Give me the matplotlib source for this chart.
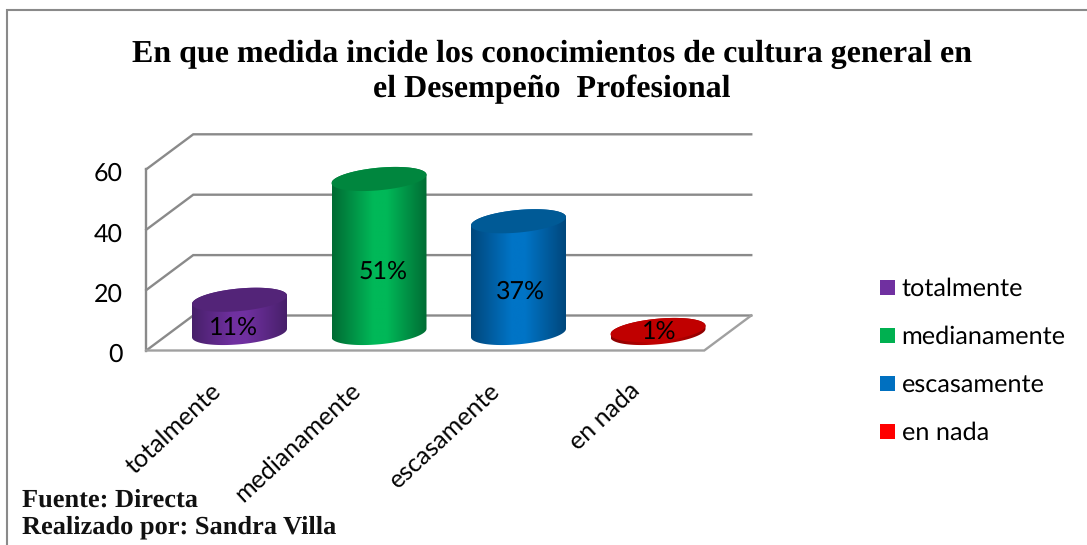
import numpy as np
import matplotlib
matplotlib.use("Agg")
import matplotlib.pyplot as plt
from matplotlib.colors import LinearSegmentedColormap
from matplotlib.patches import Polygon, Rectangle

plt.rcParams["text.hinting"] = "no_hinting"

categories = ["totalmente", "medianamente", "escasamente", "en nada"]
values = [11, 51, 37, 1]
labels = ["11%", "51%", "37%", "1%"]
y_ticks = [0, 20, 40, 60]
y_tick_labels = ["0", "20", "40", "60"]
title_lines = ["En que medida incide los conocimientos de cultura general en",
               "el Desempeño  Profesional"]
footer_lines = ["Fuente: Directa", "Realizado por: Sandra Villa"]
body_colors = ["#7030A0", "#00B858", "#0074C6", "#C00000"]
edge_colors = ["#47206A", "#006B33", "#00477C", "#8A0000"]
top_colors = ["#532478", "#00863E", "#005A96", "#C00000"]
legend_colors = ["#7030A0", "#00B050", "#0070C0", "#FF0000"]
label_dx_px = [-6, 4.5, 1.5, 1.5]

W, H = 1087, 545
PX_X = 139.5   # pixels per category
PX_Y = 3.02    # pixels per value unit
X0, Y0 = 239.5, 333.0   # pixel of category 0 / value 0 at bar base

fig = plt.figure(figsize=(W / 100, H / 100), dpi=100, facecolor="white")
ax = fig.add_axes([0, 0, 1, 1])
xlim = ((0 - X0) / PX_X, (W - X0) / PX_X)
ylim = ((Y0 - H) / PX_Y, Y0 / PX_Y)

DX, DY = 23.5 / PX_X, 17.5 / PX_Y  # half depth
A = 47.5 / PX_X                    # ellipse half-width (category units)
B = 11.3 / PX_Y                    # ellipse half-height (value units)
S = 4.2 / PX_Y                     # ellipse tilt rise
GRID = "#8A8A8A"
LW = 1.7
x_lo, x_hi = -0.5, len(categories) - 0.5

# walls and floor
for t in y_ticks:
    ax.plot([x_lo - DX, x_lo + DX, x_hi + DX], [t - DY, t + DY, t + DY],
            color=GRID, lw=LW, solid_joinstyle="miter", zorder=1)
ax.plot([x_lo - DX, x_lo - DX], [y_ticks[0] - DY, y_ticks[-1] - DY], color=GRID, lw=LW, zorder=1)
ax.plot([x_lo - DX, x_hi - DX, x_hi + DX], [-DY, -DY, DY], color="#A0A0A0", lw=LW,
        solid_joinstyle="miter", zorder=1)

# cylinders
t_par = np.linspace(0, 2 * np.pi, 181)
for i, v in enumerate(values):
    ex = i + A * np.cos(t_par)
    ey = B * np.sin(t_par) + S * np.cos(t_par)
    front = np.linspace(np.pi, 2 * np.pi, 91)
    fx = i + A * np.cos(front)
    fy = B * np.sin(front) + S * np.cos(front)
    back = np.linspace(0, np.pi, 91)
    bx = i + A * np.cos(back)
    by = v + B * np.sin(back) + S * np.cos(back)
    body = Polygon(np.column_stack([np.r_[fx, bx], np.r_[fy, by]]), closed=True,
                   fc="none", ec="none", zorder=2)
    ax.add_patch(body)
    cmap = LinearSegmentedColormap.from_list(
        "c", [edge_colors[i], body_colors[i], body_colors[i], edge_colors[i]], N=256)
    grad = np.interp(np.linspace(0, 1, 256), [0, 0.45, 0.55, 1], [0, 0.35, 0.65, 1])[None, :]
    im = ax.imshow(grad, cmap=cmap, extent=[i - A, i + A, -B - S, v + B + S], aspect="auto",
                   interpolation="bilinear", zorder=2.1, vmin=0, vmax=1)
    im.set_clip_path(body)
    ax.add_patch(Polygon(np.column_stack([ex, v + ey]), closed=True, fc=top_colors[i],
                         ec="none", zorder=2.2))
    ax.text(i + label_dx_px[i] / PX_X, max(0.46 * v - 3.2, 0.4), labels[i], ha="center",
            va="center", fontsize=18, family="Lato", color="black", zorder=3)

ax.set_xlim(xlim)
ax.set_ylim(ylim)
ax.patch.set_visible(False)
for s in ax.spines.values():
    s.set_visible(False)
ax.set_xticks([])
ax.set_yticks([])

# real axes for tick labels, located on the front edge of the floor/wall
front_x = ((x_lo - DX) - xlim[0]) / (xlim[1] - xlim[0])
front_y = ((-DY) - ylim[0]) / (ylim[1] - ylim[0])
TICK_SHIFT = DY + 2.5 / PX_Y
sy = ax.secondary_yaxis(front_x, functions=(lambda v: v + TICK_SHIFT, lambda v: v - TICK_SHIFT))
sy.set_yticks(y_ticks)
sy.set_yticklabels(y_tick_labels, family="Lato", fontsize=18)
sy.tick_params(length=0, pad=17)
sy.spines["left"].set_visible(False)
sy.spines["right"].set_visible(False)
sy.patch.set_visible(False)

LBL_SHIFT = DX + 6 / PX_X
sx = ax.secondary_xaxis(front_y, functions=(lambda v: v + LBL_SHIFT, lambda v: v - LBL_SHIFT))
sx.set_xticks(range(len(categories)))
sx.set_xticklabels(categories, rotation=43, ha="right", rotation_mode="anchor",
                   family="Lato", fontsize=18)
sx.tick_params(length=0, pad=20.5)
sx.spines["bottom"].set_visible(False)
sx.spines["top"].set_visible(False)
sx.patch.set_visible(False)

# title and footer
for line, yp in zip(title_lines, [54.5, 89]):
    fig.text(552 / W, 1 - yp / H, line, ha="center", va="center", family="Liberation Serif",
             fontweight="bold", fontsize=23, color="black")
for line, yp in zip(footer_lines, [500, 527]):
    fig.text(22 / W, 1 - yp / H, line, ha="left", va="center", family="Liberation Serif",
             fontweight="bold", fontsize=19, color="#111111")

# legend
for c, name, yp in zip(legend_colors, categories, [287, 335, 383, 431]):
    fig.patches.append(Rectangle((880 / W, 1 - (yp + 7.5) / H), 15 / W, 15 / H,
                                 transform=fig.transFigure, fc=c, ec="none"))
    fig.text(901.5 / W, 1 - (yp + 1.5) / H, name, ha="left", va="center", family="Lato",
             fontsize=18.2, color="black")

# frame: left and top edge only
fig.add_artist(plt.Line2D([7 / W, 7 / W, 1], [0, 1 - 10 / H, 1 - 10 / H],
                          transform=fig.transFigure, color="#8A8A8A", lw=1.5,
                          solid_joinstyle="miter"))

fig.savefig("out.png", dpi=100)
